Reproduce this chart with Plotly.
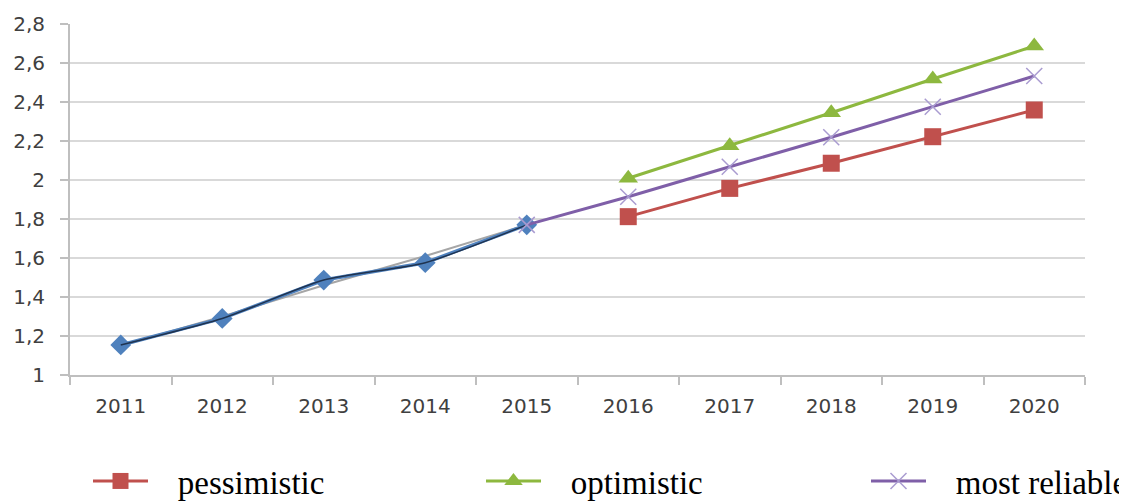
import plotly.graph_objects as go

years = ["2011", "2012", "2013", "2014", "2015", "2016", "2017", "2018", "2019", "2020"]
hist_years = ["2011", "2012", "2013", "2014", "2015"]
hist_values = [1.154, 1.29, 1.487, 1.576, 1.77]
trend_values = [1.15, 1.30, 1.46, 1.61, 1.77]
fc_years = ["2016", "2017", "2018", "2019", "2020"]
pessimistic = [1.812, 1.957, 2.086, 2.222, 2.359]
optimistic = [2.009, 2.176, 2.345, 2.518, 2.687]
reliable_years = ["2015", "2016", "2017", "2018", "2019", "2020"]
most_reliable = [1.77, 1.914, 2.068, 2.219, 2.376, 2.533]
y_ticks = [1, 1.2, 1.4, 1.6, 1.8, 2, 2.2, 2.4, 2.6, 2.8]

SP = "&nbsp;&nbsp;&nbsp;"

# page body has an 8px margin; compensate so the chart lands where the reference has it
OFF = 8
W, H = 1127 - OFF, 501 - OFF
L, R, T, B = 70 - OFF, 42, 24 - OFF, 126
PW = W - L - R
PH = H - T - B

fig = go.Figure()

fig.add_trace(go.Scatter(x=hist_years, y=trend_values, mode="lines",
                         line=dict(color="#a6a6a6", width=2), showlegend=False, hoverinfo="skip"))
fig.add_trace(go.Scatter(x=hist_years, y=hist_values, mode="lines+markers",
                         line=dict(color="#4f81bd", width=3.5),
                         marker=dict(symbol="diamond", size=16, color="#4f81bd"),
                         showlegend=False))
fig.add_trace(go.Scatter(x=hist_years, y=hist_values, mode="lines",
                         line=dict(color="#1f3350", width=1.5, shape="spline", smoothing=0.6),
                         showlegend=False, hoverinfo="skip"))
fig.add_trace(go.Scatter(x=fc_years, y=pessimistic, mode="lines+markers",
                         name=SP + "pessimistic", legend="legend",
                         line=dict(color="#c0504d", width=3),
                         marker=dict(symbol="square", size=17, color="#c0504d")))
fig.add_trace(go.Scatter(x=fc_years, y=optimistic, mode="lines+markers",
                         name=SP + "optimistic", legend="legend2",
                         line=dict(color="#8db83f", width=3),
                         marker=dict(symbol="triangle-up", size=17, color="#8db83f")))
fig.add_trace(go.Scatter(x=reliable_years, y=most_reliable, mode="lines+markers",
                         name=SP + "most reliable", legend="legend3",
                         line=dict(color="#7f5fa8", width=3),
                         marker=dict(symbol="x-thin", size=16, color="#a99bd0",
                                     line=dict(color="#a99bd0", width=1.5))))

leg_font = dict(family="Liberation Serif, Times New Roman, Times, serif", size=33, color="black")
leg_common = dict(orientation="h", xanchor="left", y=(375 - 481) / 351, yanchor="middle",
                  itemwidth=55, font=leg_font, bgcolor="rgba(0,0,0,0)")

fig.update_layout(
    width=W, height=H,
    margin=dict(l=L, r=R, t=T, b=B, autoexpand=False),
    plot_bgcolor="white", paper_bgcolor="white",
    separators=", ",
    font=dict(family="DejaVu Sans", size=20, color="#404040"),
    xaxis=dict(type="category", categoryorder="array", categoryarray=years,
               range=[-0.5, 9.5], tickson="boundaries", ticks="outside", ticklen=8,
               tickcolor="#bfbfbf", tickwidth=2, showline=True, linecolor="#bfbfbf", linewidth=2,
               showgrid=False, ticklabelstandoff=12,
               tickfont=dict(family="DejaVu Sans", size=20, color="#404040")),
    yaxis=dict(range=[1, 2.8], tickvals=y_ticks, ticks="outside", ticklen=8,
               tickcolor="#bfbfbf", tickwidth=2, showline=True, linecolor="#bfbfbf", linewidth=2,
               showgrid=True, gridcolor="#d9d9d9", gridwidth=2, zeroline=False,
               ticklabelstandoff=11,
               tickfont=dict(family="DejaVu Sans", size=20, color="#404040")),
    legend=dict(x=(88 - 70) / PW, **leg_common),
    legend2=dict(x=(481 - 70) / PW, **leg_common),
    legend3=dict(x=(866 - 70) / PW, **leg_common),
)

fig.write_html("out.html")
